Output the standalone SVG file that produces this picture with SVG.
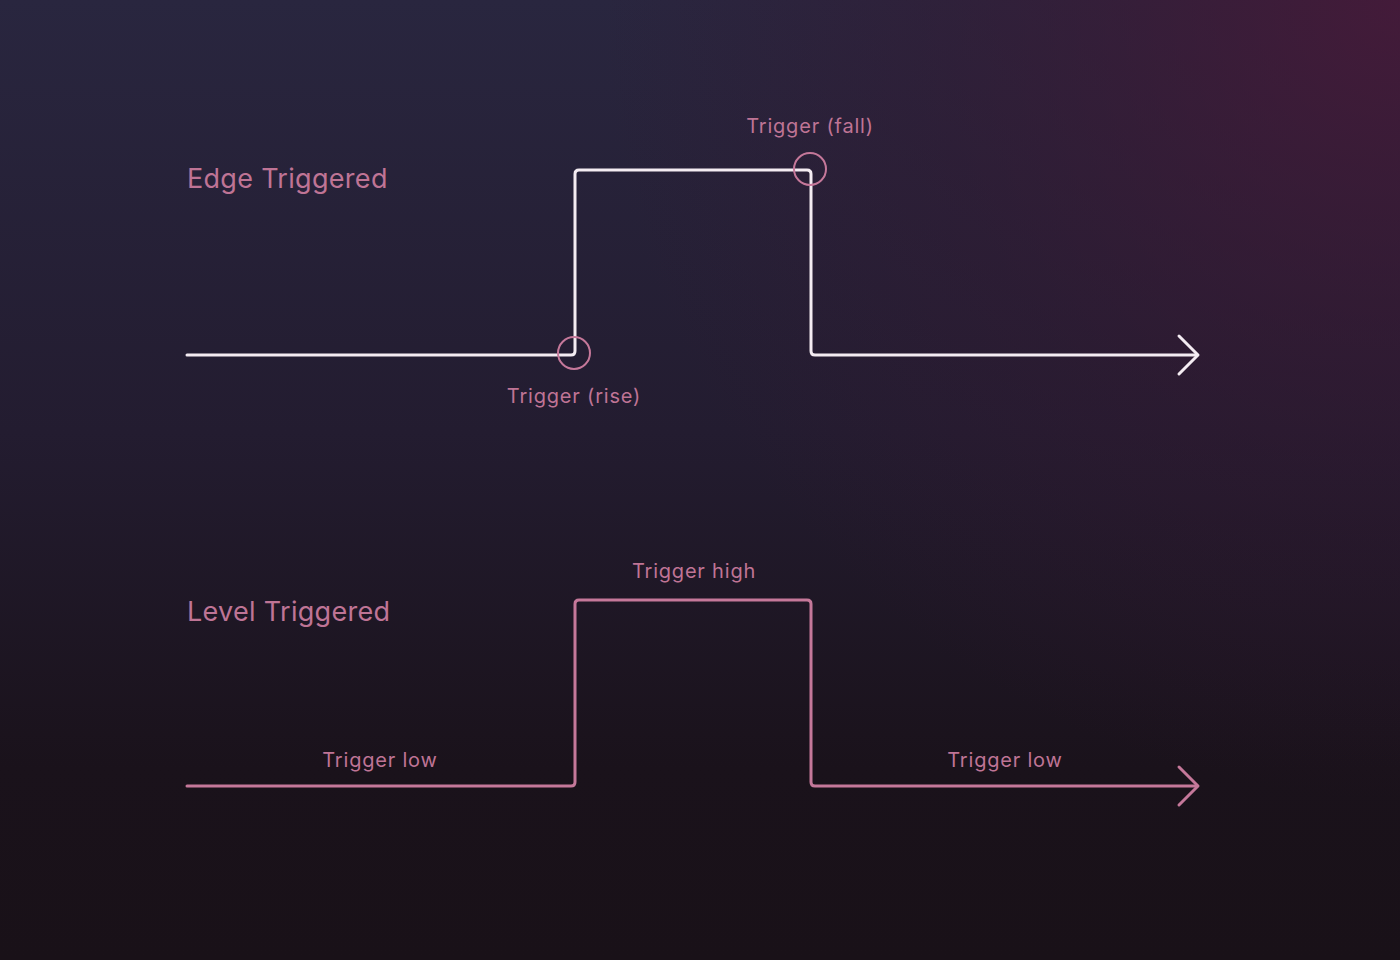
<svg xmlns="http://www.w3.org/2000/svg" width="1400" height="960" viewBox="0 0 1400 960">
<defs>
<linearGradient id="bg" x1="0" y1="0" x2="0" y2="1">
<stop offset="0" stop-color="#29263f"/>
<stop offset="0.45" stop-color="#231c30"/>
<stop offset="0.8" stop-color="#1a121b"/>
<stop offset="1" stop-color="#191118"/>
</linearGradient>
<radialGradient id="glow" cx="1400" cy="0" r="800" gradientUnits="userSpaceOnUse">
<stop offset="0" stop-color="#4a1838" stop-opacity="0.8"/>
<stop offset="0.6" stop-color="#3a1630" stop-opacity="0.3"/>
<stop offset="1" stop-color="#3a1630" stop-opacity="0"/>
</radialGradient>
<style>
.title{font-family:Inter,"Noto Sans","Liberation Sans",sans-serif;font-size:27px;fill:#bf7495;letter-spacing:0.3px;}
.lbl{font-family:Inter,"Noto Sans","Liberation Sans",sans-serif;font-size:20px;fill:#bf7495;text-anchor:middle;letter-spacing:0.8px;}
.edge{fill:none;stroke:#f4ecf2;stroke-width:3;stroke-linejoin:round;stroke-linecap:round;}
.level{fill:none;stroke:#c5789a;stroke-width:3;stroke-linejoin:round;stroke-linecap:round;}
.mark{fill:none;stroke:#c5789a;stroke-width:2;}
</style>
</defs>
<rect width="1400" height="960" fill="url(#bg)"/>
<rect width="1400" height="960" fill="url(#glow)"/>
<g id="connectors">
<path class="edge" d="M187 355 H571 Q575 355 575 351 V174 Q575 170 579 170 H807 Q811 170 811 174 V351 Q811 355 815 355 H1197"/>
<path class="edge" d="M1179 336 L1198 355 L1179 374"/>
<path class="level" d="M187 786 H571 Q575 786 575 782 V604 Q575 600 579 600 H807 Q811 600 811 604 V782 Q811 786 815 786 H1197"/>
<path class="level" d="M1179 767 L1198 786 L1179 805"/>
</g>
<g id="edge-title"><text class="title" x="187" y="188">Edge Triggered</text></g>
<g id="level-title"><text class="title" x="187" y="621">Level Triggered</text></g>
<g id="rise"><circle class="mark" cx="574" cy="353" r="16"/><text class="lbl" x="574" y="403">Trigger (rise)</text></g>
<g id="fall"><circle class="mark" cx="810" cy="169" r="16"/><text class="lbl" x="810" y="133">Trigger (fall)</text></g>
<g id="high"><text class="lbl" x="694" y="578">Trigger high</text></g>
<g id="low1"><text class="lbl" x="380" y="767">Trigger low</text></g>
<g id="low2"><text class="lbl" x="1005" y="767">Trigger low</text></g>
</svg>
